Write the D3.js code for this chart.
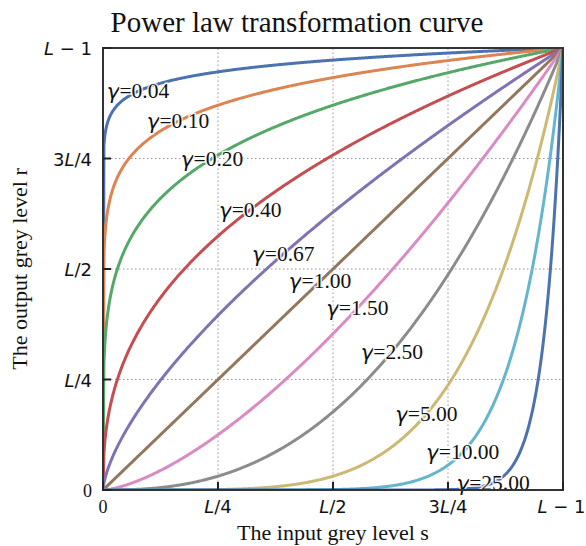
<!DOCTYPE html>
<html>
<head>
<meta charset="utf-8">
<script src="https://cdn.jsdelivr.net/npm/d3@7"></script>
<style>
  body { margin: 0; background: #fff; }
  svg { display: block; }
</style>
</head>
<body>
<script>
var gammas = [0.04, 0.10, 0.20, 0.40, 0.67, 1.00, 1.50, 2.50, 5.00, 10.00, 25.00];
var colors = ["#4C72B0", "#DD8452", "#55A868", "#C44E52", "#8172B3", "#937860",
              "#DA8BC3", "#8C8C8C", "#CCB974", "#64B5CD", "#4C72B0"];
// x position (fraction of axis) where each label sits
var labelX = [0.076, 0.163, 0.237, 0.32, 0.392, 0.472, 0.553, 0.628, 0.703, 0.782, 0.848];
var tickVals = [0, 0.25, 0.5, 0.75, 1];
var tickLabels = ["0", "L/4", "L/2", "3L/4", "L \u2212 1"];

var width = 586, height = 546;
var margin = {top: 48, right: 23, bottom: 56, left: 103};

var svg = d3.select("body").append("svg")
    .attr("width", width)
    .attr("height", height);

var x = d3.scaleLinear().domain([0, 1]).range([margin.left, width - margin.right]);
var y = d3.scaleLinear().domain([0, 1]).range([height - margin.bottom, margin.top]);

// grid
var grid = svg.append("g");
tickVals.slice(1, 4).forEach(function(v) {
  grid.append("line")
    .attr("x1", x(v)).attr("x2", x(v))
    .attr("y1", y(0)).attr("y2", y(1))
    .attr("stroke", "#999").attr("stroke-width", 1).attr("stroke-dasharray", "1.5,2.5");
  grid.append("line")
    .attr("x1", x(0)).attr("x2", x(1))
    .attr("y1", y(v)).attr("y2", y(v))
    .attr("stroke", "#999").attr("stroke-width", 1).attr("stroke-dasharray", "1.5,2.5");
});

svg.append("clipPath").attr("id", "clip")
  .append("rect")
  .attr("x", x(0)).attr("y", y(1))
  .attr("width", x(1) - x(0)).attr("height", y(0) - y(1));

// sample points, dense near both ends
var xs = d3.range(0, 1.00001, 0.002);
xs = d3.range(0, 0.002, 0.00002).concat(xs);

var line = d3.line()
  .x(function(d) { return x(d[0]); })
  .y(function(d) { return y(d[1]); });

var curves = svg.append("g").attr("clip-path", "url(#clip)");
gammas.forEach(function(g, i) {
  var pts = xs.map(function(v) { return [v, Math.pow(v, g)]; });
  curves.append("path")
    .attr("d", line(pts))
    .attr("fill", "none")
    .attr("stroke", colors[i])
    .attr("stroke-width", 3);
});

// labels on lines
var labels = svg.append("g");
gammas.forEach(function(g, i) {
  var lx = labelX[i], ly = Math.pow(lx, g);
  var t = labels.append("text")
    .attr("x", x(lx)).attr("y", y(ly))
    .attr("text-anchor", "middle")
    .attr("dominant-baseline", "central")
    .attr("font-family", "Liberation Serif, serif")
    .attr("font-size", 21.5)
    .attr("fill", "#111")
    .attr("stroke", "#fff").attr("stroke-width", 3)
    .attr("stroke-opacity", 0.85)
    .attr("paint-order", "stroke");
  t.append("tspan").attr("font-family", "DejaVu Sans").attr("font-style", "italic").text("\u03b3");
  t.append("tspan").text("=" + g.toFixed(2));
});

// frame
svg.append("rect")
  .attr("x", x(0)).attr("y", y(1))
  .attr("width", x(1) - x(0)).attr("height", y(0) - y(1))
  .attr("fill", "none").attr("stroke", "#333").attr("stroke-width", 2);

// ticks (inward)
var ticks = svg.append("g").attr("stroke", "#222").attr("stroke-width", 2);
tickVals.forEach(function(v) {
  ticks.append("line").attr("x1", x(v)).attr("x2", x(v)).attr("y1", y(0)).attr("y2", y(0) - 8);
  ticks.append("line").attr("x1", x(0)).attr("x2", x(0) + 8).attr("y1", y(v)).attr("y2", y(v));
});

function tickText(sel, label) {
  if (label === "0") {
    sel.attr("font-family", "Liberation Serif, serif").text("0");
    return;
  }
  sel.attr("font-family", "DejaVu Sans, sans-serif");
  var parts = label.split("L");
  sel.append("tspan").text(parts[0]);
  sel.append("tspan").attr("font-style", "italic").text("L");
  sel.append("tspan").text(parts[1]);
}

var xt = svg.append("g");
tickVals.forEach(function(v, i) {
  var t = xt.append("text")
    .attr("x", i === 4 ? x(v) - 1.5 : x(v)).attr("y", y(0) + 23)
    .attr("text-anchor", "middle")
    .attr("font-size", 18).attr("fill", "#111");
  tickText(t, tickLabels[i]);
});

var yt = svg.append("g");
tickVals.forEach(function(v, i) {
  var t = yt.append("text")
    .attr("x", x(0) - 11).attr("y", y(v) + 7)
    .attr("text-anchor", "end")
    .attr("font-size", 18).attr("fill", "#111");
  tickText(t, tickLabels[i]);
});

// titles
svg.append("text")
  .attr("x", 297).attr("y", 32)
  .attr("text-anchor", "middle")
  .attr("font-family", "Liberation Serif, serif")
  .attr("font-size", 29).attr("fill", "#111")
  .text("Power law transformation curve");

svg.append("text")
  .attr("x", (x(0) + x(1)) / 2).attr("y", 540)
  .attr("text-anchor", "middle")
  .attr("font-family", "Liberation Serif, serif")
  .attr("font-size", 22).attr("fill", "#111")
  .text("The input grey level s");

svg.append("text")
  .attr("transform", "translate(27," + ((y(0) + y(1)) / 2) + ") rotate(-90)")
  .attr("text-anchor", "middle")
  .attr("font-family", "Liberation Serif, serif")
  .attr("font-size", 22).attr("fill", "#111")
  .text("The output grey level r");
</script>
</body>
</html>
